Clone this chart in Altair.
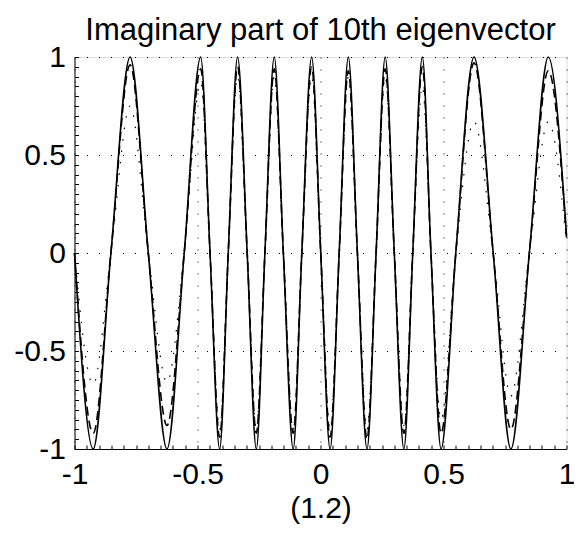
import altair as alt
import pandas as pd

# x positions of extrema and zero crossings
xs = [-1.000, -0.924, -0.852, -0.774, -0.700, -0.624, -0.554, -0.487, -0.449, -0.410,
      -0.375, -0.337, -0.298, -0.261, -0.226, -0.188, -0.151, -0.111, -0.076, -0.036,
      0.001, 0.039, 0.076, 0.113, 0.150, 0.189, 0.226, 0.263, 0.300, 0.339,
      0.375, 0.414, 0.449, 0.490, 0.550, 0.624, 0.702, 0.774, 0.849, 0.926, 1.000]

solid_y = [0, -1, 0, 1, 0, -1, 0, 1, 0, -1,
           0, 1, 0, -1, 0, 1, 0, -1, 0, 1,
           0, -1, 0, 1, 0, -1, 0, 1, 0, -1,
           0, 1, 0, -1, 0, 1, 0, -1, 0, 1, 0.09]

dashed_y = [0, -0.92, 0, 0.96, 0, -0.88, 0, 0.94, 0, -0.94,
            0, 0.95, 0, -0.92, 0, 0.94, 0, -0.92, 0, 0.95,
            0, -0.94, 0, 0.93, 0, -0.95, 0, 0.94, 0, -0.92,
            0, 0.95, 0, -0.92, 0, 0.97, 0, -0.90, 0, 0.93, 0.08]

dotted_y = [0, -0.67, 0, 0.75, 0, -0.66, 0, 0.87, 0, -0.90,
            0, 0.90, 0, -0.90, 0, 0.90, 0, -0.90, 0, 0.90,
            0, -0.90, 0, 0.90, 0, -0.90, 0, 0.90, 0, -0.88,
            0, 0.85, 0, -0.85, 0, 0.67, 0, -0.73, 0, 0.67, 0.05]

major_ticks = [-1, -0.5, 0, 0.5, 1]
minor_ticks = [round(-1 + 0.05 * i, 2) for i in range(41)]

df = pd.DataFrame({"x": xs, "solid": solid_y, "dashed": dashed_y, "dotted": dotted_y})

FONT = "Liberation Sans"
FS = 30
W, H = 492, 392
LABEL = "'' + datum.value"

xscale = alt.Scale(domain=[-1, 1], nice=False, zero=False)
yscale = alt.Scale(domain=[-1, 1], nice=False, zero=False)

base = alt.Chart(df)

solid = base.mark_line(color="black", strokeWidth=1.6, interpolate="monotone").encode(
    x=alt.X("x:Q", scale=xscale, title="(1.2)",
            axis=alt.Axis(values=major_ticks, labelExpr=LABEL, grid=True, ticks=False,
                          domain=True, domainColor="black", gridColor="black",
                          gridDash=[1, 11], gridOpacity=1, gridWidth=1, labelFont=FONT,
                          labelFontSize=FS, labelColor="black", labelPadding=10,
                          titleFont=FONT, titleFontSize=FS, titleFontWeight="normal",
                          titleColor="black", titlePadding=4, labelFlush=False,
                          labelOverlap=False)),
    y=alt.Y("solid:Q", scale=yscale, title=None,
            axis=alt.Axis(values=major_ticks, labelExpr=LABEL, grid=True, ticks=False,
                          domain=True, domainColor="black", gridColor="black",
                          gridDash=[1, 11], gridOpacity=1, gridWidth=1, labelFont=FONT,
                          labelFontSize=FS, labelColor="black", labelPadding=9,
                          labelFlush=False, labelOverlap=False)),
)

dashed = base.mark_line(color="black", strokeWidth=1.6, strokeDash=[9, 5],
                        interpolate="monotone").encode(
    x=alt.X("x:Q", scale=xscale, title=None,
            axis=alt.Axis(orient="top", offset=-H, values=minor_ticks, labels=False,
                          grid=False, domain=False, ticks=True, tickSize=4,
                          tickColor="black", tickWidth=1)),
    y=alt.Y("dashed:Q", scale=yscale, title=None,
            axis=alt.Axis(orient="right", offset=-W, values=minor_ticks, labels=False,
                          grid=False, domain=False, ticks=True, tickSize=4,
                          tickColor="black", tickWidth=1)),
)

dotted = base.mark_line(color="black", strokeWidth=1.2, strokeDash=[1.5, 10],
                        interpolate="monotone").encode(
    x=alt.X("x:Q", scale=xscale, axis=None),
    y=alt.Y("dotted:Q", scale=yscale, axis=None),
)

chart = alt.layer(dotted, dashed, solid).resolve_axis(x="independent", y="independent").properties(
    width=W, height=H,
    title=alt.TitleParams("Imaginary part of 10th eigenvector", font=FONT, fontSize=31,
                          fontWeight="normal", color="black", offset=-5),
    autosize=alt.AutoSizeParams(type="none"),
    padding={"left": 66.5, "top": 49, "right": 7, "bottom": 75},
).configure_view(stroke=None).configure(background="white")

chart.save("out.html", embed_options={"renderer": "svg", "actions": False})
